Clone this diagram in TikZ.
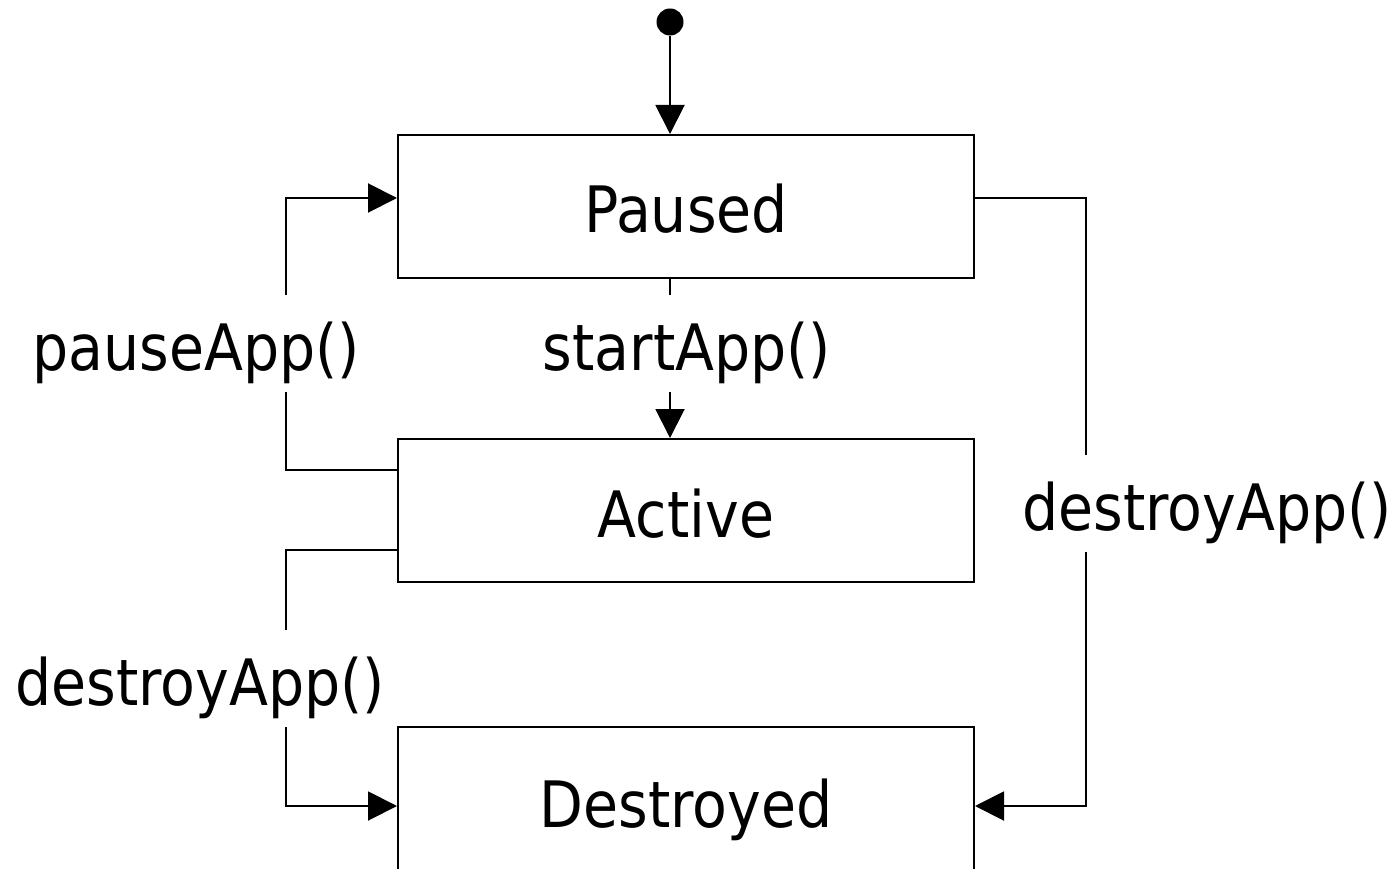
\documentclass[tikz,border=0pt]{standalone}
\usepackage{fontspec}
\setmainfont{DejaVu Sans}[FakeStretch=0.89]
\usetikzlibrary{arrows.meta}
\begin{document}
\begin{tikzpicture}[x=1pt,y=-1pt,
  every node/.style={font=\fontsize{64}{70}\selectfont},
  state/.style={draw,line width=2pt,minimum width=576pt,minimum height=143pt,inner sep=0pt,text height=53pt,text depth=0pt},
  conn/.style={line width=2pt},
  arr/.style={conn,-{Triangle[length=29pt,width=29pt]}},
  lbl/.style={fill=white,inner sep=0pt,inner xsep=2pt,text height=75pt,text depth=22pt,anchor=base}]
\useasboundingbox (0,0) rectangle (1395,869);
\clip (0,0) rectangle (1395,869);
\node[circle,fill=black,minimum size=27pt,inner sep=0pt] (init) at (670,22) {};
\node[state] (Paused) at (686,206.5) {Paused};
\node[state] (Active) at (686,510.5) {Active};
\node[state,minimum height=147pt] (Destroyed) at (686,800.5) {Destroyed};
\coordinate (pl) at (286,0);
\coordinate (pr) at (1086,0);
% initial
\draw[arr] (init) -- (init |- Paused.north);
% startApp
\draw[arr] (init |- Paused.south) -- (init |- Active.north);
% pauseApp
\draw[arr] ([yshift=40.5pt]Active.west) -- ([yshift=40.5pt]Active.west -| pl) |- ([yshift=8.5pt]Paused.west);
% destroy from Active
\draw[arr] ([yshift=-39.5pt]Active.west) -- ([yshift=-39.5pt]Active.west -| pl) |- ([yshift=-5.5pt]Destroyed.west);
% destroy from Paused
\draw[arr] ([yshift=8.5pt]Paused.east) -- ([yshift=8.5pt]Paused.east -| pr) |- ([yshift=-5.5pt]Destroyed.east);
% labels
\node[lbl] (lstart) at (687,370) {startApp()};
\node[lbl] (lpause) at (196,370) {pauseApp()};
\node[lbl] (ldestl) at (200,705) {destroyApp()};
\node[lbl] (ldestr) at (1207,530) {destroyApp()};
\end{tikzpicture}
\end{document}
